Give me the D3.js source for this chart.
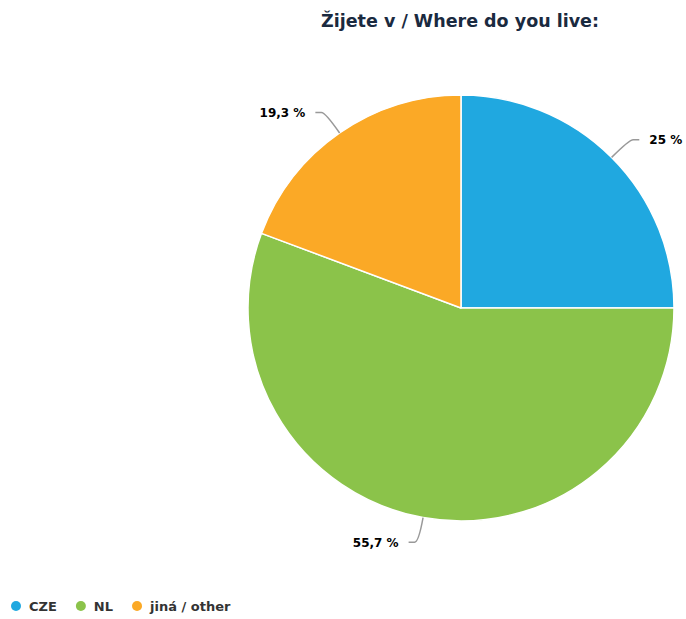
<!DOCTYPE html>
<html><head><meta charset="utf-8">
<script src="https://cdn.jsdelivr.net/npm/d3@7"></script>
<style>body{margin:0;background:#fff;} svg{display:block;}</style>
</head><body>
<script>
const categories = ["CZE", "NL", "jiná / other"];
const values = [25, 55.7, 19.3];
const labels = ["25 %", "55,7 %", "19,3 %"];
const colors = ["#20a8e0", "#8bc34a", "#fba926"];
const title = "Žijete v / Where do you live:";

const W = 686, H = 619;
const svg = d3.select("body").append("svg").attr("width", W).attr("height", H);
const cx = 461, cy = 308, r = 213;
const font = "'DejaVu Sans', sans-serif";

svg.append("text").attr("x", cx - 1).attr("y", 27).attr("text-anchor", "middle")
  .attr("font-family", font).attr("font-weight", "bold").attr("font-size", 17.5)
  .attr("fill", "#1a2a40").text(title);

const pie = d3.pie().sort(null).value(d => d)(values);
const arc = d3.arc().innerRadius(0).outerRadius(r);
const g = svg.append("g").attr("transform", `translate(${cx},${cy})`);
g.selectAll("path.slice").data(pie).join("path").attr("class", "slice")
  .attr("d", arc).attr("fill", (d, i) => colors[i])
  .attr("stroke", "#fff").attr("stroke-width", 1.5).attr("stroke-linejoin", "round");

pie.forEach((d, i) => {
  const a = (d.startAngle + d.endAngle) / 2;
  const p0 = [Math.sin(a) * r, -Math.cos(a) * r];
  const p1 = [Math.sin(a) * (r + 25), -Math.cos(a) * (r + 25)];
  const right = a < Math.PI;
  const s = right ? 1 : -1;
  const p2 = [p1[0] + s * 10, p1[1]];
  g.append("path")
    .attr("d", `M${p0[0]},${p0[1]} Q${p1[0]},${p1[1]} ${p1[0]+s*4},${p1[1]} L${p2[0]},${p2[1]}`)
    .attr("fill", "none").attr("stroke", "#999").attr("stroke-width", 1.5);
  g.append("text").attr("x", p1[0] + s * 20).attr("y", p1[1] + 4.5)
    .attr("text-anchor", right ? "start" : "end")
    .attr("font-family", font).attr("font-weight", "bold").attr("font-size", 12)
    .attr("fill", "#000").text(labels[i]);
});

const leg = svg.append("g").attr("transform", "translate(0,606)");
let lx = 16;
categories.forEach((c, i) => {
  leg.append("circle").attr("cx", lx).attr("cy", 0).attr("r", 5).attr("fill", colors[i]);
  const t = leg.append("text").attr("x", lx + 13).attr("y", 5)
    .attr("font-family", font).attr("font-weight", "bold").attr("font-size", 13)
    .attr("fill", "#333").text(c);
  lx += 13 + t.node().getComputedTextLength() + 24;
});
</script>
</body></html>
